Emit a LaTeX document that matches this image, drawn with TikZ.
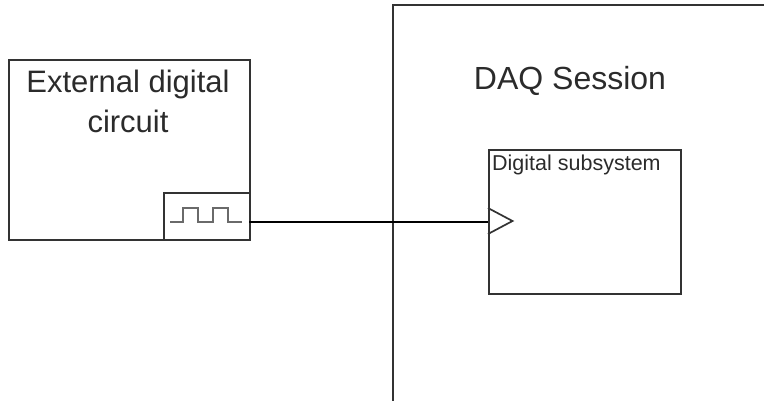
\documentclass[tikz,border=0pt]{standalone}
\usepackage{fontspec}
\setmainfont{Liberation Sans}
\definecolor{edge}{HTML}{333333}
\definecolor{ink}{HTML}{2B2B2B}
\definecolor{wavegray}{HTML}{6A6A6A}
\tikzset{
  block/.style={draw=edge, line width=1.7pt, anchor=north west, inner sep=0pt},
  wire/.style={draw=black, line width=1.2pt},
  wave/.style={draw=wavegray, line width=2.4pt},
}
\begin{document}
\begin{tikzpicture}[x=1pt, y=-1pt]
	\useasboundingbox (0,0) rectangle (764,400);
	\clip (0,0) rectangle (764,400);
	% external circuit
	\node[block, minimum width=241pt, minimum height=180pt] (ext) at (8,59) {};
	\node[anchor=north, inner sep=0pt, align=center, text=ink, font=\fontsize{31}{40}\selectfont] (exttitle) at (128,70) {External digital\\circuit};
	\node[block, minimum width=86pt, minimum height=47pt, anchor=south east] (pulse) at (ext.south east) {};
	\draw[wave] (170,222) -- (183,222) -- (183,208) -- (198,208) -- (198,222) -- (213,222) -- (213,208) -- (228,208) -- (228,222) -- (242,222);
	% session
	\node[block, minimum width=420pt, minimum height=420pt] (daq) at (392,4) {};
	\node[anchor=base, inner sep=0pt, text=ink, font=\fontsize{32}{36}\selectfont] (daqtitle) at (570,89) {DAQ Session};
	\node[block, minimum width=192pt, minimum height=144pt] (dig) at (488,149) {};
	\node[anchor=base west, inner sep=0pt, text=ink, font=\fontsize{21.5}{24}\selectfont] (digtitle) at (492,170) {Digital subsystem};
	\coordinate (clk) at (488,222);
	\coordinate (out) at (249,222);
	\draw[block] (488,208) -- (512.5,221) -- (488,234);
	\draw[wire] (out) -- (clk);
\end{tikzpicture}
\end{document}
